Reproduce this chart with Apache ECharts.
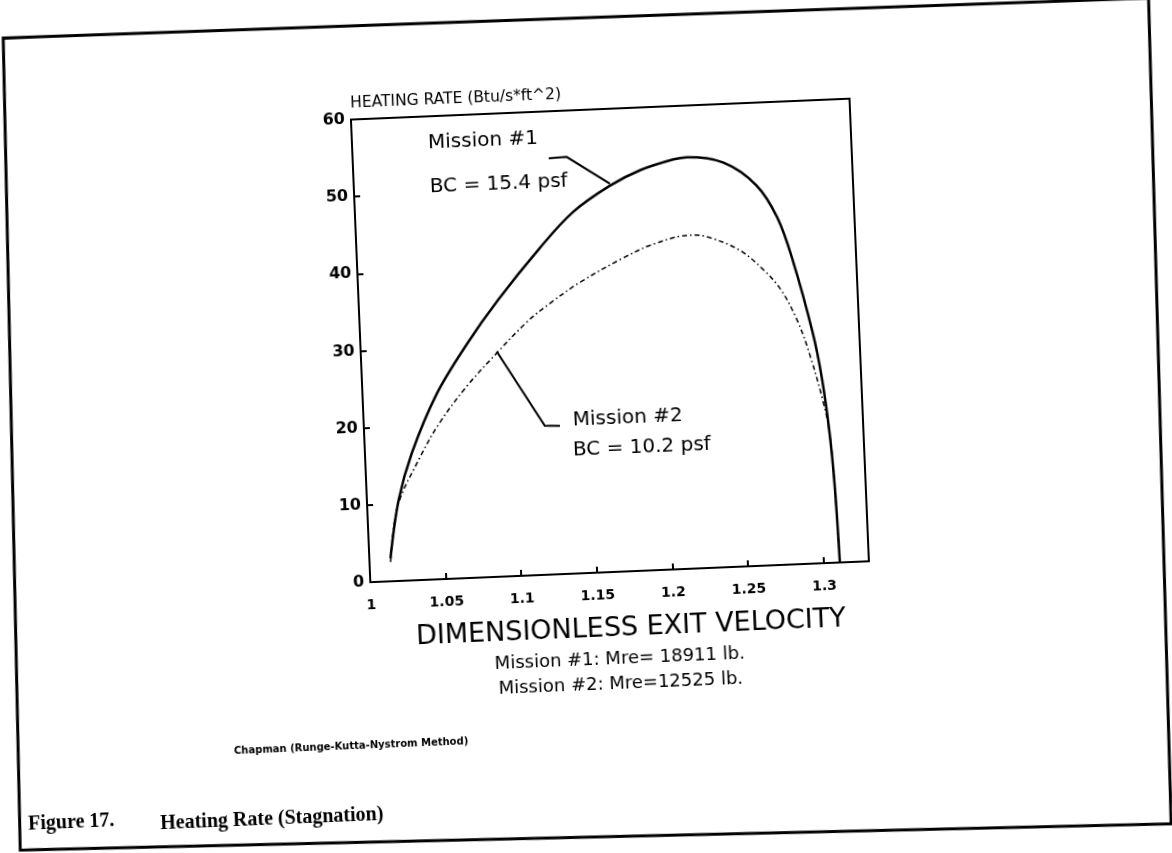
<!DOCTYPE html>
<html>
<head>
<meta charset="utf-8">
<title>Heating Rate (Stagnation)</title>
<script src="https://cdn.jsdelivr.net/npm/echarts@6/dist/echarts.min.js"></script>
<style>
  html, body { margin: 0; padding: 0; background: #fff; overflow: hidden; }
  /* the scanned page sits a little crooked, so the whole chart is turned */
  #graphHeat {
    width: 1172px;
    height: 853px;
    background: #fff;
    transform: rotate(-2.4deg);
    transform-origin: 586px 426.5px;
  }
</style>
</head>
<body>
<div id="graphHeat"></div>
<script>
const xTickLabels = ['1', '1.05', '1.1', '1.15', '1.2', '1.25', '1.3'];
const yTickLabels = ['0', '10', '20', '30', '40', '50', '60'];

// Mission #1, BC = 15.4 psf (solid)
const mission1X = [1.014, 1.021, 1.031, 1.049, 1.070, 1.092, 1.121, 1.144, 1.169, 1.190, 1.212, 1.221, 1.245, 1.266, 1.279, 1.288, 1.2992, 1.304, 1.3075, 1.3095, 1.3108];
const mission1Y = [3.0, 10.5, 16.5, 24.0, 30.2, 35.8, 42.3, 46.8, 50.0, 51.9, 53.1, 53.3, 52.4, 49.3, 45.0, 39.4, 29.9, 24.0, 17.0, 10.0, 0];

// Mission #2, BC = 10.2 psf (dash-dot)
const mission2X = [1.014, 1.020, 1.036, 1.050, 1.069, 1.090, 1.111, 1.127, 1.147, 1.176, 1.196, 1.221, 1.232, 1.253, 1.2685, 1.2795, 1.2895, 1.2965, 1.304, 1.3075, 1.3095, 1.3108];
const mission2Y = [2.5, 9.6, 15.8, 20.2, 24.8, 29.0, 32.9, 35.2, 37.7, 40.6, 42.2, 43.2, 42.9, 41.0, 38.3, 35.6, 31.5, 27.2, 21.1, 17.0, 10.0, 0];

// leader lines from the notes to the curves, in data units
const mission1Leader = [[1.1296, 53.9], [1.1415, 54.0], [1.1693, 50.3]];
const mission2Leader = [[1.0899, 29.2], [1.1196, 19.3], [1.1296, 19.2]];

const sans = 'DejaVu Sans, Arial, sans-serif';
const serif = 'Liberation Serif, Times New Roman, serif';

let myChart = echarts.init(document.getElementById('graphHeat'));

const pairs = (xs, ys) => xs.map((x, i) => [x, ys[i]]);

const tickText = (list, start, step) => (value) => {
    let k = (value - start) / step;
    let i = Math.round(k);
    if (Math.abs(k - i) > 1e-6 || i < 0 || i >= list.length) return '';
    return list[i];
};

let option = {
    backgroundColor: '#fff',
    animation: false,
    grid: {
        left: 364, top: 110, width: 499, height: 463,
        show: true, borderColor: '#000', borderWidth: 2
    },
    xAxis: {
        type: 'value',
        min: 1, max: 1.33, interval: 0.05,
        name: 'DIMENSIONLESS EXIT VELOCITY',
        nameLocation: 'middle',
        nameGap: 43,
        nameTextStyle: { color: '#000', fontFamily: sans, fontSize: 27, padding: [0, 0, 0, 18] },
        axisLine: { lineStyle: { color: '#000', width: 2 } },
        axisTick: { inside: true, length: 6, lineStyle: { color: '#000', width: 2 } },
        axisLabel: {
            color: '#000', fontFamily: sans, fontSize: 14, fontWeight: 'bold', margin: 16,
            showMaxLabel: false,
            formatter: tickText(xTickLabels, 1, 0.05)
        },
        splitLine: { show: false }
    },
    yAxis: {
        type: 'value',
        min: 0, max: 60, interval: 10,
        name: 'HEATING RATE (Btu/s*ft^2)',
        nameLocation: 'end',
        nameGap: 8,
        nameTextStyle: { color: '#000', fontFamily: sans, fontSize: 15.5, align: 'left' },
        axisLine: { lineStyle: { color: '#000', width: 2 } },
        axisTick: { inside: true, length: 6, lineStyle: { color: '#000', width: 2 } },
        axisLabel: {
            color: '#000', fontFamily: sans, fontSize: 16, fontWeight: 'bold', margin: 6,
            formatter: tickText(yTickLabels, 0, 10)
        },
        splitLine: { show: false }
    },
    series: [
        {
            name: 'Mission #1',
            type: 'line',
            data: pairs(mission1X, mission1Y),
            showSymbol: false,
            smooth: 0.35,
            lineStyle: { color: '#000', width: 2.5 }
        },
        {
            name: 'Mission #2',
            type: 'line',
            data: pairs(mission2X, mission2Y),
            showSymbol: false,
            smooth: 0.35,
            lineStyle: { color: '#000', width: 1.5, type: [5, 3, 1.5, 3] }
        }
    ],
    graphic: [
        {
            id: 'frame', type: 'polygon', silent: true,
            shape: { points: [[20, 14], [1166, 22], [1154, 848], [3, 826]] },
            style: { fill: null, stroke: '#000', lineWidth: 3 }
        },
        {
            type: 'text', x: 440, y: 137,
            style: { text: 'Mission #1', font: '20px ' + sans, fill: '#000', textVerticalAlign: 'middle' }
        },
        {
            type: 'text', x: 440, y: 181,
            style: { text: 'BC = 15.4 psf', font: '20px ' + sans, fill: '#000', textVerticalAlign: 'middle' }
        },
        {
            type: 'text', x: 573, y: 420,
            style: { text: 'Mission #2', font: '20px ' + sans, fill: '#000', textVerticalAlign: 'middle' }
        },
        {
            type: 'text', x: 572, y: 450,
            style: { text: 'BC = 10.2 psf', font: '20px ' + sans, fill: '#000', textVerticalAlign: 'middle' }
        },
        {
            type: 'text', x: 610, y: 660,
            style: { text: 'Mission #1: Mre= 18911 lb.', font: '18px ' + sans, fill: '#000', textAlign: 'center', textVerticalAlign: 'middle' }
        },
        {
            type: 'text', x: 610, y: 685,
            style: { text: 'Mission #2: Mre=12525 lb.', font: '18px ' + sans, fill: '#000', textAlign: 'center', textVerticalAlign: 'middle' }
        },
        {
            type: 'text', x: 338, y: 736,
            style: { text: 'Chapman (Runge-Kutta-Nystrom Method)', font: 'bold 10px ' + sans, fill: '#000', textAlign: 'center', textVerticalAlign: 'middle' }
        },
        {
            type: 'text', x: 12, y: 801,
            style: { text: 'Figure 17.', font: 'bold 20px ' + serif, fill: '#000', textVerticalAlign: 'middle' }
        },
        {
            type: 'text', x: 144, y: 806,
            style: { text: 'Heating Rate (Stagnation)', font: 'bold 20px ' + serif, fill: '#000', textVerticalAlign: 'middle' }
        }
    ]
};

option && myChart.setOption(option);

// the leader lines go through the chart's own scales
const toPx = (pts) => pts.map(p => myChart.convertToPixel({ gridIndex: 0 }, p));
myChart.setOption({
    graphic: [
        {
            id: 'lead1', type: 'polyline', silent: true,
            shape: { points: toPx(mission1Leader) },
            style: { fill: null, stroke: '#000', lineWidth: 2 }
        },
        {
            id: 'lead2', type: 'polyline', silent: true,
            shape: { points: toPx(mission2Leader) },
            style: { fill: null, stroke: '#000', lineWidth: 2 }
        }
    ]
});
</script>
</body>
</html>
